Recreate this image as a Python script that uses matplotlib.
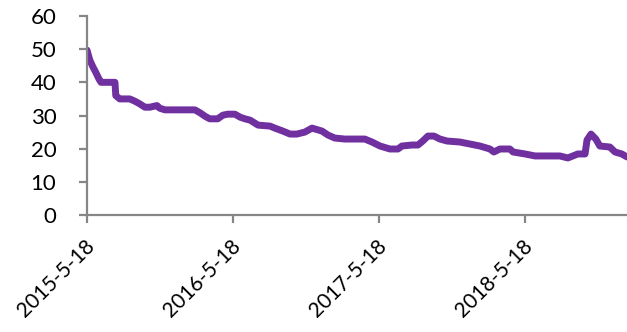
import numpy as np
import pandas as pd
import matplotlib
matplotlib.use("Agg")
import matplotlib.pyplot as plt
import matplotlib.transforms as mtransforms

# series readings
dates = [
    "2015-05-18", "2015-05-25", "2015-06-02", "2015-06-09", "2015-06-17",
    "2015-06-22", "2015-07-27", "2015-07-29", "2015-08-08", "2015-09-02",
    "2015-09-15", "2015-09-27", "2015-10-10", "2015-10-22", "2015-11-09",
    "2015-11-16", "2015-11-29", "2016-02-12", "2016-02-25", "2016-03-08",
    "2016-03-20", "2016-04-09", "2016-04-22", "2016-05-04", "2016-05-22",
    "2016-06-04", "2016-06-16", "2016-06-29", "2016-07-19", "2016-08-18",
    "2016-08-30", "2016-09-19", "2016-10-07", "2016-10-24", "2016-11-13",
    "2016-12-01", "2016-12-26", "2017-01-10", "2017-01-27", "2017-02-21",
    "2017-04-12", "2017-04-30", "2017-05-20", "2017-06-14", "2017-07-04",
    "2017-07-14", "2017-08-08", "2017-08-23", "2017-09-04", "2017-09-17",
    "2017-10-02", "2017-10-17", "2017-11-04", "2017-12-06", "2017-12-31",
    "2018-01-25", "2018-02-19", "2018-03-01", "2018-03-16", "2018-04-10",
    "2018-04-18", "2018-05-18", "2018-06-12", "2018-08-13", "2018-09-02",
    "2018-09-27", "2018-10-15", "2018-10-20", "2018-10-30", "2018-11-11",
    "2018-11-21", "2018-12-16", "2018-12-29", "2019-01-15", "2019-01-28",
]
values = [
    49.7, 46.7, 44.6, 43.0, 41.0,
    40.0, 40.0, 36.0, 35.0, 35.0,
    34.3, 33.5, 32.5, 32.5, 33.0,
    32.2, 31.7, 31.7, 30.8, 29.8,
    29.0, 29.0, 30.1, 30.4, 30.4,
    29.5, 29.0, 28.6, 27.1, 26.8,
    26.2, 25.3, 24.4, 24.4, 25.0,
    26.2, 25.3, 24.1, 23.2, 22.9,
    22.9, 22.0, 20.8, 19.9, 19.9,
    20.8, 21.1, 21.1, 22.3, 23.8,
    23.8, 22.9, 22.3, 22.0, 21.4,
    20.8, 19.9, 19.0, 19.9, 19.9,
    19.0, 18.4, 17.8, 17.8, 17.2,
    18.4, 18.4, 22.6, 24.4, 22.9,
    20.8, 20.5, 19.0, 18.4, 17.5,
]
tick_dates = ["2015-05-18", "2016-05-18", "2017-05-18", "2018-05-18"]
tick_labels = ["2015-5-18", "2016-5-18", "2017-5-18", "2018-5-18"]

x = pd.to_datetime(dates)
ticks = pd.to_datetime(tick_dates)

plt.rcParams['font.family'] = ['Lato', 'DejaVu Sans']
grey = "#868686"

fig = plt.figure(figsize=(6.27, 3.32), dpi=100)
ax = fig.add_axes([87 / 627, 1 - 215 / 332, 1 - 87 / 627, (215 - 16) / 332])

ax.plot(x, values, color="#7030A0", lw=5, solid_joinstyle="round",
        solid_capstyle="round")

ax.set_xlim(pd.Timestamp("2015-05-18"), pd.Timestamp("2019-01-28"))
ax.set_ylim(0, 60)
ax.set_yticks(range(0, 61, 10))
ax.set_xticks(ticks)
ax.set_xticklabels(tick_labels, rotation=45, ha="right", va="center",
                   rotation_mode="anchor")

for s in ["top", "right"]:
    ax.spines[s].set_visible(False)
for s in ["left", "bottom"]:
    ax.spines[s].set_color(grey)
    ax.spines[s].set_linewidth(1.6)

ax.tick_params(axis="both", colors=grey, length=6, width=1.6, labelsize=16,
               labelcolor="black")
ax.tick_params(axis="x", pad=14, labelsize=15)
ax.tick_params(axis="y", pad=16)

# nudge the slanted date labels a little to the right
shift = mtransforms.ScaledTranslation(4 / 100, 0, fig.dpi_scale_trans)
for lbl in ax.get_xticklabels():
    lbl.set_transform(lbl.get_transform() + shift)

fig.savefig("out.png", dpi=100)
